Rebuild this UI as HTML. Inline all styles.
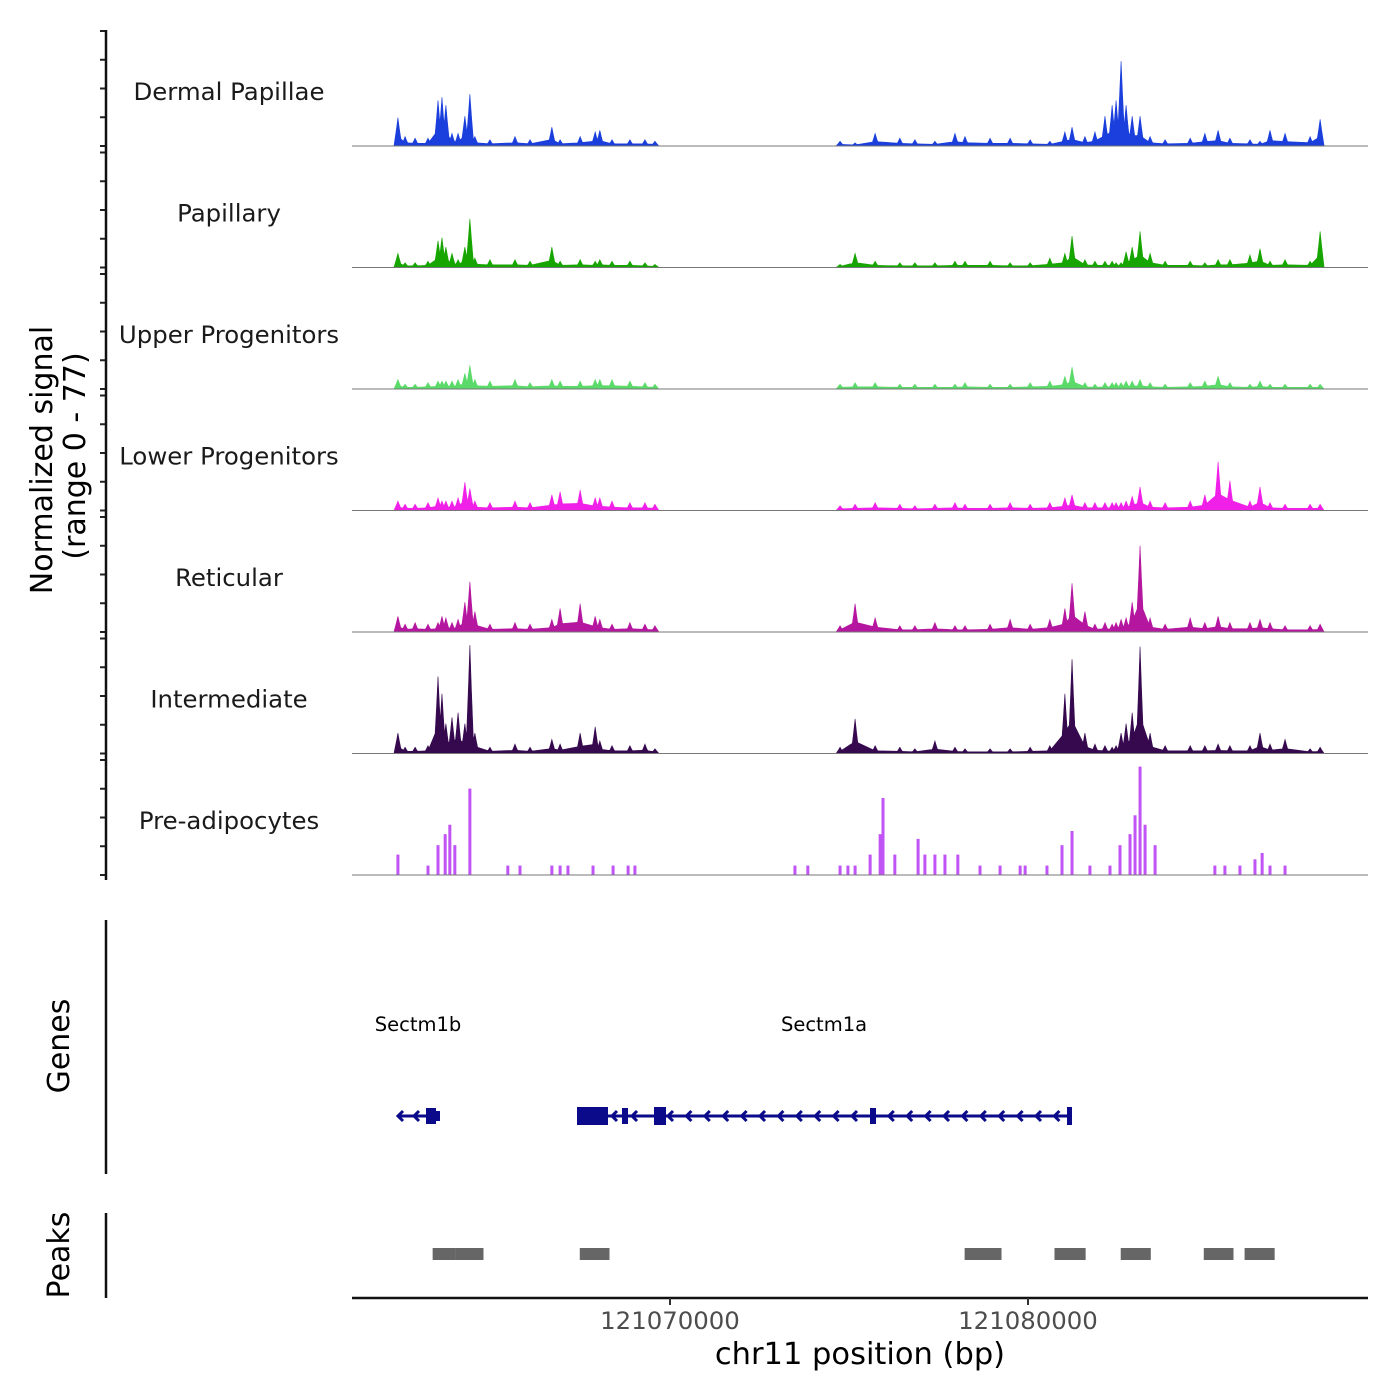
<!DOCTYPE html>
<html><head><meta charset="utf-8"><style>
html,body{margin:0;padding:0;background:#fff;}
svg{display:block;font-family:"Liberation Sans","DejaVu Sans",sans-serif;}
</style></head><body>
<svg id="chart" width="1400" height="1400" viewBox="0 0 1400 1400" xmlns="http://www.w3.org/2000/svg">
<g id="tracks"></g>
<g id="axes"></g>
<text transform="translate(52,460) rotate(-90)" text-anchor="middle" font-size="30" font-family="DejaVu Sans, sans-serif">Normalized signal</text>
<text transform="translate(85,456) rotate(-90)" text-anchor="middle" font-size="30" font-family="DejaVu Sans, sans-serif">(range 0 - 77)</text>
<text transform="translate(69,1046) rotate(-90)" text-anchor="middle" font-size="30" font-family="DejaVu Sans, sans-serif">Genes</text>
<text transform="translate(69,1255) rotate(-90)" text-anchor="middle" font-size="30" font-family="DejaVu Sans, sans-serif">Peaks</text>
<text x="860" y="1364" text-anchor="middle" font-size="30.5" font-family="DejaVu Sans, sans-serif">chr11 position (bp)</text>
<g id="genes"></g>
<g id="peaks"></g>
</svg>
<script>
const trackNames = ["Dermal Papillae","Papillary","Upper Progenitors","Lower Progenitors","Reticular","Intermediate","Pre-adipocytes"];
const trackColors = ["#1a3fdc","#17a500","#5ada68","#f020e8","#b5169f","#36094f","#c154f5"];
const posKb = [121062.40,121062.60,121062.88,121063.24,121063.52,121063.63,121063.74,121063.91,121064.08,121064.27,121064.41,121064.55,121064.97,121065.67,121066.09,121066.70,121066.93,121067.49,121067.91,121068.04,121068.38,121068.88,121069.30,121069.58,
121074.75,121075.17,121075.73,121076.42,121076.84,121077.40,121077.96,121078.24,121078.94,121079.50,121080.06,121080.61,121081.03,121081.23,121081.59,121081.87,121082.15,121082.35,121082.46,121082.60,121082.74,121082.91,121083.13,121083.41,121083.83,121084.53,121084.94,121085.31,121085.64,121086.20,121086.48,121086.76,121087.18,121087.88,121088.16];
const dermalValues = [18,6,5,5,29,31,26,8,8,19,33,6,4,6,4,12,4,6,9,10,4,4,4,3, 3,2,8,5,4,3,8,6,5,5,4,3,9,12,6,9,19,26,29,54,26,19,19,6,4,5,8,10,5,4,3,10,8,6,17];
const papillaryValues = [9,3,3,4,17,19,13,9,5,13,31,6,5,5,4,13,4,5,4,5,4,4,3,2, 2,9,4,3,3,3,4,4,4,3,3,6,9,20,5,4,4,4,3,3,10,13,23,9,4,4,3,5,5,8,12,4,5,4,23];
const upperValues = [6,3,3,4,5,5,5,5,6,10,15,6,5,6,4,6,5,5,6,6,6,5,4,3, 3,4,4,3,3,3,3,4,3,3,4,5,8,14,4,3,4,4,4,4,5,5,6,4,3,4,5,8,4,3,5,3,3,3,3];
const lowerValues = [6,4,4,5,8,6,6,6,8,18,14,6,5,6,5,10,12,13,8,8,6,5,5,4, 3,4,5,4,3,4,5,4,4,5,4,5,8,10,5,5,5,5,5,5,6,9,15,6,5,6,10,31,19,6,15,5,4,4,4];
const reticularValues = [10,5,6,5,6,10,9,6,8,19,32,13,5,6,5,8,15,18,10,8,5,6,5,4, 4,18,9,4,4,6,4,4,5,8,5,8,15,31,13,5,6,5,6,8,9,19,55,9,5,9,6,10,6,6,8,6,4,4,5];
const intermediateValues = [13,4,4,5,49,38,19,23,26,19,69,13,4,6,4,9,6,13,17,8,5,5,6,3, 4,22,5,4,3,8,4,3,3,3,4,5,38,60,13,6,5,4,5,13,19,26,68,13,5,5,5,6,5,5,13,6,9,3,4];
const adipoPosKb = [121062.40,121063.24,121063.52,121063.72,121063.85,121063.99,121064.41,121065.47,121065.81,121066.70,121066.93,121067.15,121067.85,121068.41,121068.83,121069.02,
121073.49,121073.85,121074.75,121074.97,121075.17,121075.59,121075.87,121075.95,121076.28,121076.93,121077.12,121077.40,121077.68,121078.04,121078.66,121079.22,121079.78,121079.92,
121080.53,121080.95,121081.23,121081.73,121082.29,121082.57,121082.85,121082.99,121083.13,121083.27,121083.55,121085.22,121085.50,121085.92,121086.34,121086.54,121086.76,121087.18];
const adipoValues = [13,6,19,26,32,19,55,6,6,6,6,6,6,6,6,6,
6,6,6,6,6,13,26,49,13,23,13,13,13,13,6,6,6,6,
6,19,28,6,6,19,26,38,69,32,19,6,6,6,10,14,6,6];
const seriesValues = [dermalValues,papillaryValues,upperValues,lowerValues,reticularValues,intermediateValues];
const xTicks = [121070000,121080000];
const xTickLabels = ["121070000","121080000"];
const peakStarts = [121063.37,121064.01,121067.48,121078.23,121080.74,121082.59,121084.91,121086.05];
const peakEnds = [121064.01,121064.79,121068.31,121079.26,121081.61,121083.43,121085.74,121086.89];
const segBreakIndex = 24;

const NS = "http://www.w3.org/2000/svg";
function xs(kb){ return 670 + (kb - 121070) * 35.8; }
function ys(v){ return v * 1.571; }
function baseline(i){ return 146 + i * 121.5; }
function mk(tag, attrs, parent){ const e = document.createElementNS(NS, tag); for (const k in attrs) e.setAttribute(k, attrs[k]); parent.appendChild(e); return e; }

const tracks = document.getElementById('tracks');
const axes = document.getElementById('axes');

for (let t = 0; t < 7; t++) {
  const b = baseline(t);
  const g = mk('g', {}, tracks);
  
  
  const lab = mk('text', {x:229, y:b-46, 'text-anchor':'middle', 'font-size':24.4, 'font-family':'DejaVu Sans, sans-serif', fill:'#1a1a1a'}, g);
  lab.textContent = trackNames[t];
  
  
  if (t < 6) {
    const vals = seriesValues[t];
    const segs = [[0, segBreakIndex - 1], [segBreakIndex, posKb.length - 1]];
    let d = '';
    segs.forEach(s => {
      d += 'M' + (xs(posKb[s[0]]) - 2) + ',' + b;
      for (let i = s[0]; i <= s[1]; i++) d += 'L' + xs(posKb[i]) + ',' + (b - ys(vals[i]) * 0.35);
      d += 'L' + (xs(posKb[s[1]]) + 2) + ',' + b + 'Z';
      for (let i = s[0]; i <= s[1]; i++) {
        const x = xs(posKb[i]), h = ys(vals[i]);
        d += 'M' + (x - 4) + ',' + b + 'L' + (x - 1.5) + ',' + (b - h * 0.6) + 'L' + x + ',' + (b - h) + 'L' + (x + 1.5) + ',' + (b - h * 0.6) + 'L' + (x + 4) + ',' + b + 'Z';
      }
    });
    const p = mk('path', {d: d, fill: trackColors[t], stroke: trackColors[t], 'stroke-width': 0.6}, g);
    
    
  } else {
    for (let i = 0; i < adipoPosKb.length; i++) {
      const h = ys(adipoValues[i]);
      const r = mk('rect', {x: xs(adipoPosKb[i]) - 1.5, y: b - h, width: 3, height: h, fill: trackColors[t]}, g);
      
      
    }
  }
  const bl = mk('line', {x1:352, x2:1368, y1:b, y2:b, stroke:'#777', 'stroke-width':1}, g);
  
  
  for (let k = 0; k <= 4; k++) {
    const ty = b - k * 28.75;
    const tk = mk('line', {x1:100, x2:106, y1:ty, y2:ty, stroke:'#222', 'stroke-width':2}, axes);
    
    
  }
}
const ya = mk('line', {x1:106, x2:106, y1:30, y2:880, stroke:'#111', 'stroke-width':2.5}, axes);


const ga = mk('line', {x1:106, x2:106, y1:920, y2:1174, stroke:'#111', 'stroke-width':2.5}, axes);


const pa = mk('line', {x1:106, x2:106, y1:1213, y2:1298, stroke:'#111', 'stroke-width':2.5}, axes);


const xa = mk('line', {x1:352, x2:1368, y1:1298, y2:1298, stroke:'#111', 'stroke-width':2.5}, axes);


xTicks.forEach((v, i) => {
  const x = xs(v / 1000);
  const tk = mk('line', {x1:x, x2:x, y1:1298, y2:1305, stroke:'#333', 'stroke-width':2}, axes);
  
  
  const tl = mk('text', {x:x, y:1329, 'text-anchor':'middle', 'font-size':24.4, fill:'#4d4d4d', 'font-family':'DejaVu Sans, sans-serif'}, axes);
  tl.textContent = xTickLabels[i];
  
  
});

const genes = document.getElementById('genes');
const gc = '#0a0a8a';
function geneLine(x1, x2, y, parent){ mk('line', {x1:x1, x2:x2, y1:y, y2:y, stroke:gc, 'stroke-width':3}, parent); }
function chev(x, y, parent){ mk('polyline', {points:(x+5)+','+(y-5)+' '+x+','+y+' '+(x+5)+','+(y+5), fill:'none', stroke:gc, 'stroke-width':3}, parent); }
function exon(x1, x2, y, h, parent){ mk('rect', {x:x1, y:y-h/2, width:x2-x1, height:h, fill:gc}, parent); }
const gy = 1116;
const g1 = mk('g', {}, genes);


geneLine(398, 440, gy, g1); chev(398, gy, g1); chev(414, gy, g1); exon(426, 436, gy, 16, g1); exon(436, 440, gy, 10, g1);
const t1 = mk('text', {x:418, y:1031, 'text-anchor':'middle', 'font-size':19.5, 'font-family':'DejaVu Sans, sans-serif'}, g1);
t1.textContent = 'Sectm1b';
const g2 = mk('g', {}, genes);


geneLine(577, 1070, gy, g2);
exon(577, 608, gy, 18, g2); exon(622, 628, gy, 16, g2); exon(654, 666, gy, 18, g2); exon(870, 876, gy, 16, g2); exon(1067, 1072, gy, 18, g2);
chev(612, gy, g2); chev(632, gy, g2);
for (let x = 668; x < 1060; x += 18.4) { if (Math.abs(x - 873) > 6) chev(x, gy, g2); }
const t2 = mk('text', {x:824, y:1031, 'text-anchor':'middle', 'font-size':19.5, 'font-family':'DejaVu Sans, sans-serif'}, g2);
t2.textContent = 'Sectm1a';

const peaks = document.getElementById('peaks');
for (let i = 0; i < peakStarts.length; i++) {
  const x1 = xs(peakStarts[i]), x2 = xs(peakEnds[i]);
  const r = mk('rect', {x:x1, y:1248, width:x2 - x1, height:12, fill:'#666'}, peaks);
  
  
}
</script>
</body></html>
